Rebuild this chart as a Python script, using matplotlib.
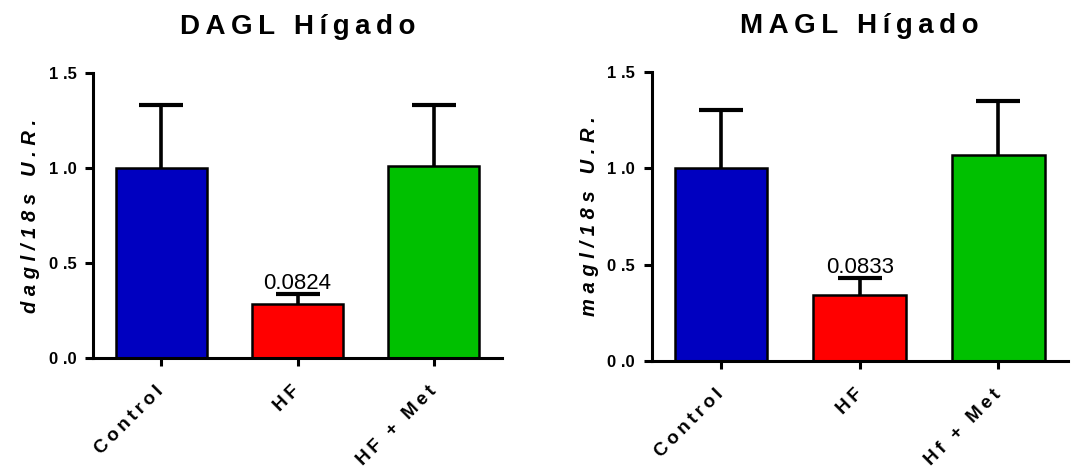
import matplotlib
matplotlib.use("Agg")
import matplotlib.pyplot as plt
import numpy as np

plt.rcParams['font.family'] = ['Liberation Sans', 'DejaVu Sans']

categories_left = ["Control", "HF", "HF + Met"]
categories_right = ["Control", "HF", "Hf + Met"]
dagl_mean = [1.00, 0.284, 1.012]
dagl_err = [0.332, 0.051, 0.318]
magl_mean = [1.00, 0.345, 1.068]
magl_err = [0.30, 0.085, 0.28]
colors = ["#0000C0", "#FF0000", "#00C000"]
yticks = [0.0, 0.5, 1.0, 1.5]
pvals = ["0.0824", "0.0833"]

def spaced(s, sep="\u2009"):
    return sep.join(list(s))

def ytick_fmt(v):
    s = f"{v:.1f}"
    return s[0] + "\u2009\u200a" + s[1:]

fig = plt.figure(figsize=(10.87, 4.67), dpi=100)
ax1 = fig.add_axes([0.0856, 0.2334, 0.3762, 0.6103])
ax2 = fig.add_axes([0.5995, 0.2263, 0.3827, 0.6202])

panels = [
    (ax1, categories_left, dagl_mean, dagl_err, "DAGL Hígado", "dagl/18s U.R.", pvals[0]),
    (ax2, categories_right, magl_mean, magl_err, "MAGL Hígado", "magl/18s U.R.", pvals[1]),
]

for ax, cats, means, errs, title, ylab, pv in panels:
    x = np.arange(len(cats))
    ax.bar(x, means, width=0.667, color=colors, edgecolor="black", linewidth=1.8, zorder=2)
    eb = ax.errorbar(x, means, yerr=[np.zeros(len(means)), errs], fmt="none", ecolor="black",
                     elinewidth=2.6, capsize=16, capthick=3, zorder=1)
    for cl in eb[1]:
        if np.allclose(cl.get_ydata(), means):
            cl.set_visible(False)
    ax.set_xlim(-0.5, 2.5)
    ax.set_ylim(0, 1.5)
    ax.set_yticks(yticks)
    ax.set_yticklabels([ytick_fmt(v) for v in yticks], fontsize=12, fontweight="bold")
    ax.set_xticks(x)
    ax.set_xticklabels([spaced(c, "\u2009") for c in cats], rotation=45, ha="right",
                       va="center", rotation_mode="anchor", fontsize=13.5, fontweight="bold")
    for sp in ["top", "right"]:
        ax.spines[sp].set_visible(False)
    for sp in ["left", "bottom"]:
        ax.spines[sp].set_linewidth(2.2)
    ax.tick_params(axis="both", width=2.2, length=6, direction="out")
    ax.tick_params(axis="x", pad=16)
    ax.tick_params(axis="y", pad=6)
    ax.set_title(spaced(title, "\u2009"), fontsize=20, fontweight="bold", pad=28)
    ax.set_ylabel(spaced(ylab, "\u2009\u200a"), fontsize=14.5, fontweight="bold", style="italic", labelpad=6)
    ax.annotate(pv, xy=(1, means[1] + errs[1]), xytext=(0, 0), textcoords="offset points",
                ha="center", va="bottom", fontsize=16)

fig.savefig("out.png", dpi=100)
